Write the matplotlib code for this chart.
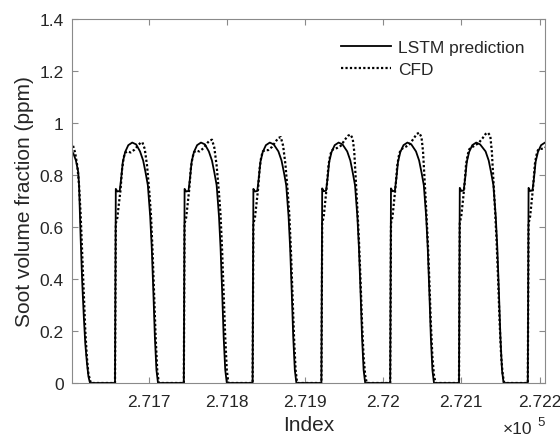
import matplotlib
matplotlib.use("Agg")
import matplotlib.pyplot as plt

# ---------------- data ----------------
lstm_index = [
    271600, 271604, 271607, 271610, 271611, 271613, 271615, 271617, 271619, 271621, 271623, 271625,
    271657, 271658, 271660, 271663, 271665, 271667, 271670, 271674, 271679, 271684, 271689, 271693, 271696, 271699, 271702, 271704, 271706, 271708, 271710, 271712,
    271745, 271746, 271748, 271751, 271753, 271755, 271758, 271762, 271767, 271772, 271777, 271781, 271784, 271787, 271790, 271792, 271794, 271796, 271798, 271800,
    271833, 271834, 271836, 271839, 271841, 271843, 271846, 271850, 271855, 271860, 271866, 271870, 271873, 271876, 271879, 271881, 271883, 271885, 271887, 271889,
    271921, 271922, 271924, 271927, 271929, 271931, 271934, 271938, 271943, 271948, 271954, 271958, 271961, 271964, 271967, 271969, 271971, 271973, 271975, 271977,
    272009, 272010, 272012, 272015, 272017, 272019, 272022, 272026, 272031, 272036, 272042, 272046, 272049, 272052, 272055, 272057, 272059, 272061, 272063, 272065,
    272097, 272098, 272100, 272103, 272105, 272107, 272110, 272114, 272119, 272124, 272131, 272135, 272138, 272141, 272144, 272146, 272148, 272150, 272152, 272154,
    272185, 272186, 272188, 272191, 272193, 272195, 272198, 272202, 272207, 272212,
]
lstm_value = [
    0.900, 0.880, 0.855, 0.810, 0.760, 0.560, 0.390, 0.260, 0.150, 0.080, 0.025, 0.0,
    0.0, 0.746, 0.736, 0.738, 0.790, 0.850, 0.888, 0.914, 0.924, 0.917, 0.890, 0.855, 0.810, 0.760, 0.640, 0.520, 0.355, 0.175, 0.050, 0.0,
    0.0, 0.746, 0.736, 0.738, 0.790, 0.850, 0.888, 0.914, 0.924, 0.917, 0.890, 0.855, 0.810, 0.760, 0.640, 0.520, 0.355, 0.175, 0.050, 0.0,
    0.0, 0.746, 0.736, 0.738, 0.790, 0.850, 0.888, 0.914, 0.924, 0.917, 0.890, 0.855, 0.810, 0.760, 0.640, 0.520, 0.355, 0.175, 0.050, 0.0,
    0.0, 0.748, 0.737, 0.739, 0.790, 0.850, 0.888, 0.914, 0.924, 0.917, 0.890, 0.855, 0.810, 0.760, 0.640, 0.520, 0.355, 0.175, 0.050, 0.0,
    0.0, 0.748, 0.737, 0.739, 0.790, 0.850, 0.888, 0.914, 0.924, 0.917, 0.890, 0.855, 0.810, 0.760, 0.640, 0.520, 0.355, 0.175, 0.050, 0.0,
    0.0, 0.750, 0.738, 0.740, 0.790, 0.850, 0.888, 0.914, 0.924, 0.917, 0.890, 0.855, 0.810, 0.760, 0.640, 0.520, 0.355, 0.175, 0.050, 0.0,
    0.0, 0.750, 0.738, 0.740, 0.790, 0.850, 0.888, 0.914, 0.924, 0.917,
]

cfd_index = [
    271600, 271603, 271606, 271609, 271611, 271613, 271615, 271617, 271619, 271621, 271623, 271626,
    271657, 271658, 271660, 271662, 271664, 271666, 271668, 271670, 271673, 271677, 271682, 271687, 271690, 271692, 271695, 271698, 271701, 271703, 271705, 271707, 271709, 271711, 271713,
    271745, 271746, 271748, 271750, 271752, 271754, 271756, 271758, 271761, 271765, 271770, 271775, 271778, 271781, 271784, 271787, 271790, 271792, 271794, 271796, 271798, 271800, 271802,
    271833, 271834, 271836, 271838, 271840, 271842, 271844, 271846, 271849, 271853, 271858, 271863, 271866, 271869, 271872, 271875, 271878, 271880, 271882, 271884, 271886, 271888, 271890,
    271921, 271922, 271924, 271926, 271928, 271930, 271932, 271934, 271937, 271941, 271946, 271951, 271955, 271958, 271961, 271963, 271965, 271967, 271969, 271971, 271973, 271975, 271977, 271979,
    272009, 272010, 272012, 272014, 272016, 272018, 272020, 272022, 272025, 272029, 272034, 272039, 272043, 272046, 272049, 272051, 272053, 272055, 272057, 272059, 272061, 272063, 272065, 272067,
    272097, 272098, 272100, 272102, 272104, 272106, 272108, 272110, 272113, 272117, 272122, 272127, 272131, 272134, 272137, 272139, 272141, 272143, 272145, 272147, 272149, 272151, 272153, 272155,
    272185, 272186, 272188, 272190, 272192, 272194, 272196, 272198, 272201, 272205, 272210, 272215,
]
cfd_value = [
    0.925, 0.915, 0.885, 0.830, 0.760, 0.650, 0.500, 0.340, 0.200, 0.100, 0.035, 0.0,
    0.0, 0.613, 0.635, 0.690, 0.740, 0.820, 0.865, 0.885, 0.890, 0.886, 0.897, 0.915, 0.924, 0.925, 0.900, 0.835, 0.730, 0.645, 0.510, 0.345, 0.175, 0.050, 0.0,
    0.0, 0.613, 0.635, 0.690, 0.745, 0.825, 0.865, 0.887, 0.893, 0.890, 0.902, 0.922, 0.932, 0.935, 0.905, 0.835, 0.730, 0.645, 0.510, 0.345, 0.175, 0.050, 0.0,
    0.0, 0.613, 0.635, 0.690, 0.745, 0.825, 0.868, 0.890, 0.895, 0.895, 0.908, 0.930, 0.942, 0.945, 0.912, 0.840, 0.730, 0.645, 0.510, 0.345, 0.175, 0.050, 0.0,
    0.0, 0.613, 0.640, 0.700, 0.760, 0.835, 0.872, 0.893, 0.900, 0.903, 0.912, 0.935, 0.950, 0.955, 0.940, 0.890, 0.780, 0.670, 0.550, 0.400, 0.230, 0.100, 0.030, 0.0,
    0.0, 0.613, 0.640, 0.700, 0.760, 0.835, 0.872, 0.895, 0.902, 0.908, 0.918, 0.940, 0.957, 0.962, 0.945, 0.890, 0.780, 0.670, 0.550, 0.400, 0.230, 0.100, 0.030, 0.0,
    0.0, 0.613, 0.645, 0.700, 0.760, 0.840, 0.875, 0.898, 0.905, 0.912, 0.922, 0.940, 0.957, 0.962, 0.950, 0.890, 0.780, 0.670, 0.550, 0.400, 0.230, 0.100, 0.030, 0.0,
    0.0, 0.613, 0.640, 0.700, 0.760, 0.840, 0.875, 0.895, 0.900, 0.900, 0.910, 0.930,
]

x_ticks = [271700, 271800, 271900, 272000, 272100, 272200]
x_tick_labels = ["2.717", "2.718", "2.719", "2.72", "2.721", "2.722"]
y_ticks = [0, 0.2, 0.4, 0.6, 0.8, 1.0, 1.2, 1.4]
y_tick_labels = ["0", "0.2", "0.4", "0.6", "0.8", "1", "1.2", "1.4"]

# ---------------- figure ----------------
plt.rcParams['font.family'] = ['Liberation Sans', 'DejaVu Sans']
fig = plt.figure(figsize=(5.6, 4.39), dpi=100)
ax = fig.add_axes([0.1286, 0.1253, 0.8446, 0.8298])

ax.plot(lstm_index, lstm_value, color='black', lw=1.3, ls='-', label='LSTM prediction')
ax.plot(cfd_index, cfd_value, color='black', lw=1.6, ls=(0, (1, 1)), label='CFD')

ax.set_xlim(271602, 272207)
ax.set_ylim(0, 1.4)
ax.set_xticks(x_ticks)
ax.set_xticklabels(x_tick_labels)
ax.set_yticks(y_ticks)
ax.set_yticklabels(y_tick_labels)

axis_col = '#8a8a8a'
text_col = '#262626'
for s in ax.spines.values():
    s.set_color(axis_col)
    s.set_linewidth(0.8)
ax.tick_params(direction='in', length=4, width=0.8, color=axis_col,
               labelcolor=text_col, labelsize=12.5, top=True, right=True)
ax.tick_params(axis='x', pad=8)
ax.tick_params(axis='y', pad=6)

ax.set_xlabel('Index', fontsize=15, color=text_col, labelpad=4)
ax.set_ylabel('Soot volume fraction (ppm)', fontsize=15, color=text_col, labelpad=4)

fig.text(518 / 560, 2 / 439, '\u00d710', fontsize=12.5, color=text_col,
         ha='center', va='bottom')
fig.text(541 / 560, (439 - 423) / 439, '5', fontsize=9.5, color=text_col,
         ha='center', va='center')

leg = ax.legend(loc='upper right', bbox_to_anchor=(0.99, 0.985), frameon=False,
                fontsize=12.5, handlelength=2.9, handletextpad=0.4, labelspacing=0.4)
for t in leg.get_texts():
    t.set_color(text_col)

fig.savefig('out.png', dpi=100)
